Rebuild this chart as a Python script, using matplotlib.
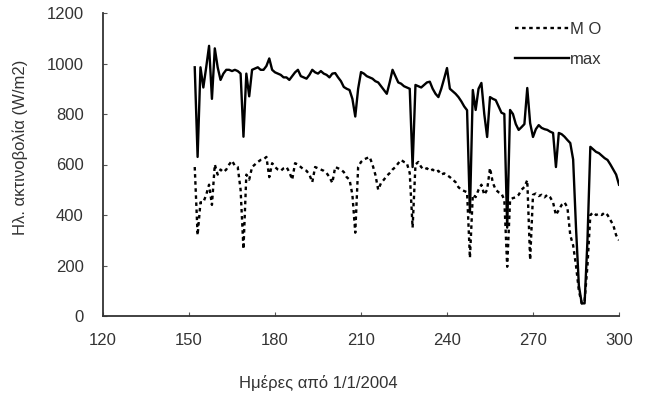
import numpy as np
import matplotlib
matplotlib.use('Agg')
from matplotlib import pyplot as plt

plt.rcParams['font.family'] = ['Liberation Sans', 'DejaVu Sans']

# days since 1/1/2004
days = np.arange(152, 301)

# daily mean (M O), W/m2
mo = [590, 320, 450, 450, 480, 520, 440, 600, 560, 580,
      570, 580, 600, 615, 595, 590, 500, 265, 560, 540,
      590, 600, 610, 618, 620, 630, 550, 605, 590, 580,
      575, 585, 590, 570, 540, 605, 600, 590, 580, 575,
      560, 530, 590, 585, 580, 575, 566, 550, 527, 590,
      585, 580, 570, 550, 540, 480, 330, 590, 610, 620,
      625, 630, 600, 560, 500, 527, 540, 555, 566, 580,
      590, 605, 618, 610, 605, 566, 350, 600, 610, 590,
      580, 585, 575, 580, 570, 575, 560, 565, 558, 550,
      540, 530, 510, 500, 495, 490, 230, 480, 471, 500,
      520, 480, 500, 586, 527, 500, 490, 485, 460, 195,
      460, 467, 470, 480, 500, 511, 538, 222, 480, 485,
      475, 480, 470, 480, 470, 450, 400, 420, 440, 450,
      430, 320, 280, 200, 100, 50, 60, 200, 400, 410,
      400, 405, 400, 410, 400, 380, 360, 320, 300]

# daily maximum, W/m2
mx = [985, 630, 985, 905, 985, 1070, 860, 1060, 985, 935,
      960, 975, 975, 970, 975, 970, 960, 710, 960, 870,
      975, 980, 985, 975, 975, 990, 1020, 975, 965, 960,
      955, 945, 945, 935, 950, 965, 975, 950, 945, 940,
      955, 975, 965, 960, 970, 960, 955, 945, 960, 962,
      945, 930, 907, 900, 895, 860, 790, 900, 966, 960,
      950, 945, 940, 930, 925, 910, 895, 880, 925, 975,
      950, 925, 920, 910, 905, 900, 590, 915, 910, 905,
      915, 925, 928, 900, 880, 867, 900, 940, 982, 900,
      890, 880, 867, 850, 830, 815, 410, 895, 816, 900,
      923, 800, 709, 867, 860, 855, 830, 805, 800, 350,
      816, 800, 760, 737, 748, 760, 903, 764, 709, 740,
      756, 745, 740, 737, 730, 725, 590, 725, 720, 710,
      697, 685, 620, 350, 120, 50, 50, 300, 670, 660,
      650, 645, 635, 625, 618, 600, 580, 560, 520]

fig = plt.figure(figsize=(6.51, 4.03), dpi=100)
ax = fig.add_axes([103/651, 1-316/403, 516/651, 303/403])

ax.plot(days, mo, color='black', lw=1.7, ls=(0, (1.5, 1.5)), label='M O')
ax.plot(days, mx, color='black', lw=1.7, label='max')

ax.set_xlim(120, 300)
ax.set_ylim(0, 1200)
ax.set_xticks(np.arange(120, 301, 30))
ax.set_yticks(np.arange(0, 1201, 200))
for s in ['top', 'right']:
    ax.spines[s].set_visible(False)
for s in ['left', 'bottom']:
    ax.spines[s].set_color('#333333')
    ax.spines[s].set_linewidth(1.3)
ax.tick_params(axis='both', direction='in', length=3, width=0.8, color='#555555',
               labelsize=12, labelcolor='#333333')
ax.tick_params(axis='x', pad=12)
ax.tick_params(axis='y', pad=14)

ax.legend(loc='upper left', bbox_to_anchor=(0.77, 1.02), frameon=False,
          fontsize=12, handlelength=3.2, handletextpad=0.1, labelspacing=0.9,
          labelcolor='#333333')

fig.text(318/651, 1-383/403, 'Ημέρες από 1/1/2004', ha='center', va='center',
         fontsize=12, color='#333333')
fig.text(20/651, 1-147/403, 'Ηλ. ακτινοβολία (W/m2)', ha='center', va='center',
         rotation=90, fontsize=12, color='#333333')

fig.savefig('out.png', dpi=100)
